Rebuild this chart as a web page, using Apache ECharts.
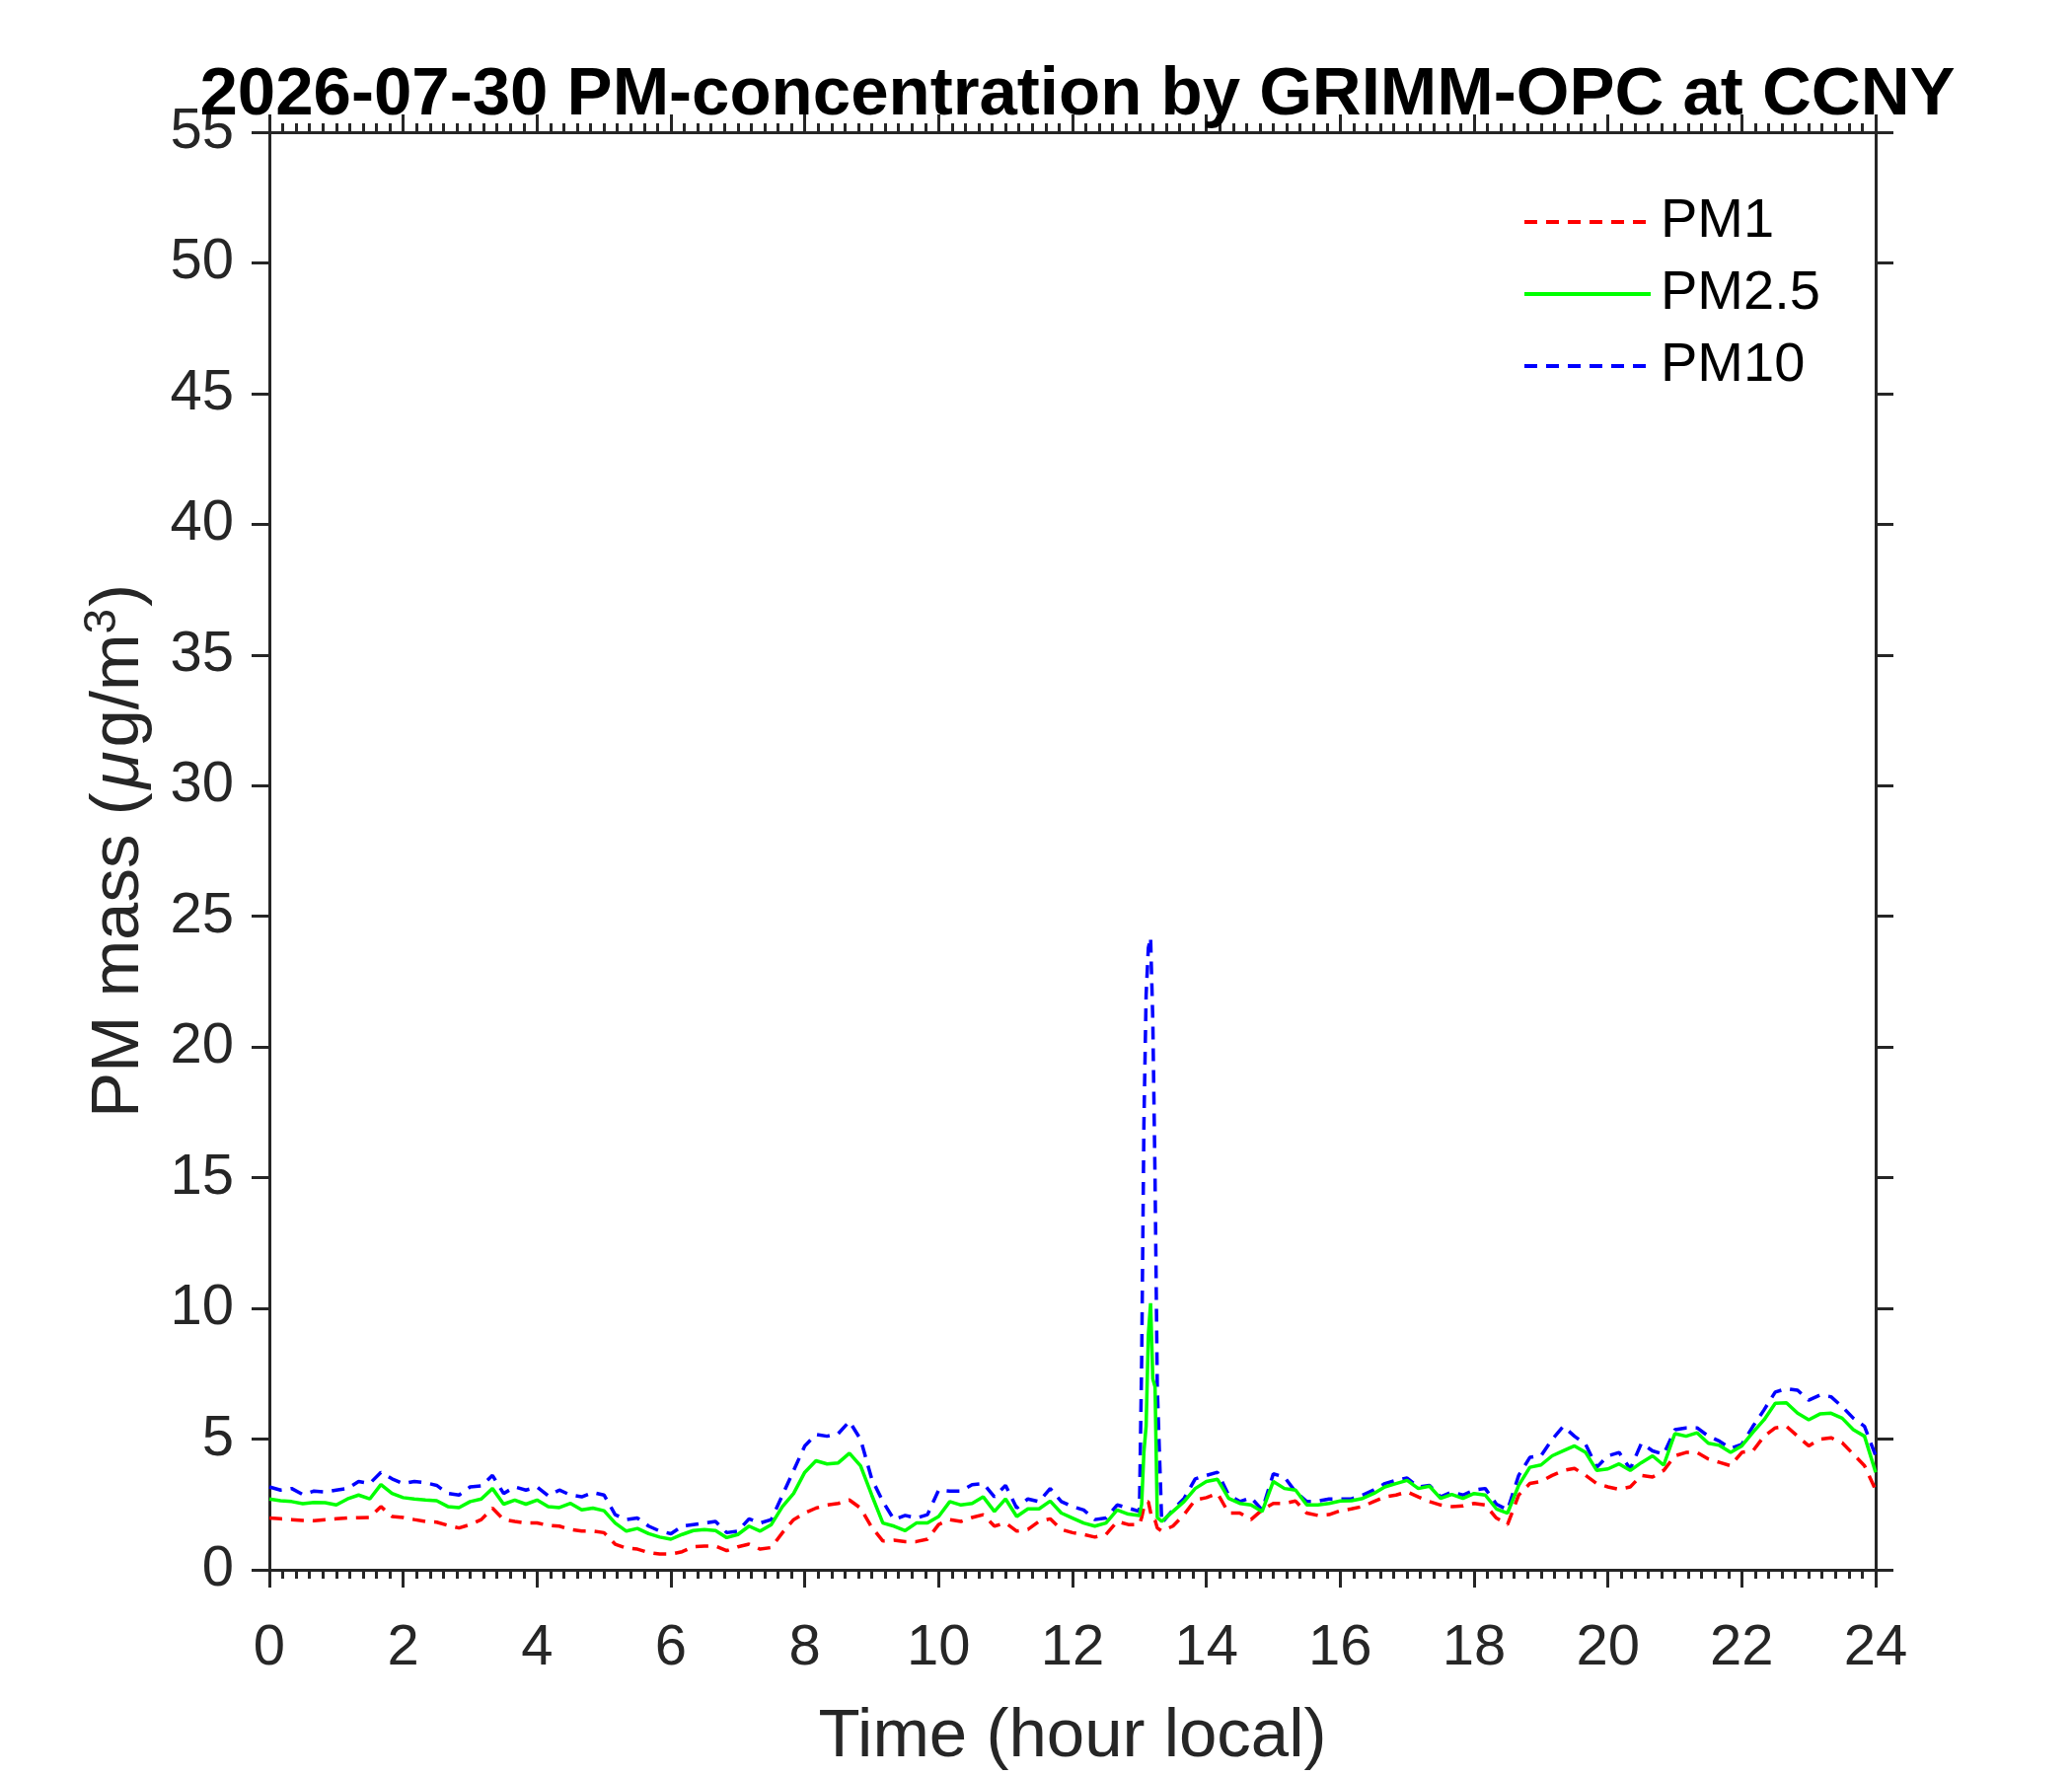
<!DOCTYPE html>
<html>
<head>
<meta charset="utf-8">
<script src="https://cdn.jsdelivr.net/npm/echarts@6/dist/echarts.min.js"></script>
<style>
  html, body { margin: 0; padding: 0; background: #fff; }
  #chart { width: 2100px; height: 1800px; }
</style>
</head>
<body>
<div id="chart"></div>
<script>
// sample times, minutes after midnight (extra samples around the 13:05 spike)
const minutes = [
    0, 10, 20, 30, 40, 50, 60, 70, 80, 90, 100, 110,
    120, 130, 140, 150, 160, 170, 180, 190, 200, 210, 220, 230,
    240, 250, 260, 270, 280, 290, 300, 310, 320, 330, 340, 350,
    360, 370, 380, 390, 400, 410, 420, 430, 440, 450, 460, 470,
    480, 490, 500, 510, 520, 530, 540, 550, 560, 570, 580, 590,
    600, 610, 620, 630, 640, 650, 660, 670, 680, 690, 700, 710,
    720, 730, 740, 750, 760, 770, 780,
    782, 784, 786, 788, 790, 792, 794, 796,
    800, 810, 820, 830,
    840, 850, 860, 870, 880, 890, 900, 910, 920, 930, 940, 950,
    960, 970, 980, 990, 1000, 1010, 1020, 1030, 1040, 1050, 1060, 1070,
    1080, 1090, 1100, 1110, 1120, 1130, 1140, 1150, 1160, 1170, 1180, 1190,
    1200, 1210, 1220, 1230, 1240, 1250, 1260, 1270, 1280, 1290, 1300, 1310,
    1320, 1330, 1340, 1350, 1360, 1370, 1380, 1390, 1400, 1410, 1420, 1430,
    1440,
];

const pm1 = [
    1.98, 1.95, 1.92, 1.89, 1.88, 1.92, 1.95, 1.98, 1.99, 2.00, 2.42, 2.04,
    2.00, 1.92, 1.85, 1.82, 1.70, 1.60, 1.73, 1.92, 2.36, 1.92, 1.85, 1.79,
    1.79, 1.70, 1.67, 1.54, 1.48, 1.48, 1.42, 0.98, 0.83, 0.79, 0.66, 0.60,
    0.60, 0.69, 0.88, 0.91, 0.91, 0.73, 0.88, 0.98, 0.79, 0.85, 1.42, 1.92,
    2.17, 2.36, 2.48, 2.54, 2.67, 2.36, 1.63, 1.10, 1.13, 1.08, 1.08, 1.17,
    1.73, 1.92, 1.85, 2.00, 2.11, 1.67, 1.79, 1.48, 1.54, 1.85, 1.95, 1.54,
    1.42, 1.35, 1.25, 1.35, 1.85, 1.73, 1.73,
    2.0, 2.4, 2.6, 2.6, 2.2, 1.9, 1.9, 1.6,
    1.48, 1.67, 2.11, 2.67,
    2.76, 2.92, 2.17, 2.17, 1.92, 2.29, 2.54, 2.54, 2.63, 2.17, 2.08, 2.11,
    2.26, 2.33, 2.42, 2.61, 2.79, 2.86, 2.98, 2.79, 2.61, 2.48, 2.42, 2.44,
    2.54, 2.48, 1.98, 1.73, 2.86, 3.30, 3.38, 3.61, 3.80, 3.88, 3.61, 3.30,
    3.17, 3.08, 3.17, 3.61, 3.55, 3.80, 4.36, 4.49, 4.49, 4.24, 4.11, 3.98,
    4.49, 4.55, 5.11, 5.43, 5.49, 5.11, 4.74, 4.99, 5.05, 4.86, 4.42, 3.98,
    3.05,
];

const pm25 = [
    2.71, 2.64, 2.61, 2.53, 2.58, 2.57, 2.48, 2.71, 2.86, 2.71, 3.26, 2.92,
    2.76, 2.71, 2.67, 2.64, 2.42, 2.38, 2.61, 2.71, 3.11, 2.51, 2.67, 2.51,
    2.67, 2.42, 2.38, 2.54, 2.29, 2.36, 2.26, 1.79, 1.48, 1.58, 1.38, 1.25,
    1.17, 1.35, 1.50, 1.54, 1.50, 1.23, 1.35, 1.67, 1.48, 1.73, 2.42, 2.92,
    3.73, 4.17, 4.05, 4.09, 4.46, 3.98, 2.86, 1.79, 1.67, 1.50, 1.79, 1.79,
    2.04, 2.61, 2.48, 2.54, 2.79, 2.23, 2.71, 2.04, 2.33, 2.33, 2.63, 2.17,
    1.98, 1.79, 1.67, 1.79, 2.29, 2.13, 2.08,
    2.5, 4.5, 5.5, 9.0, 10.2, 7.3, 7.0, 2.0,
    1.85, 2.23, 2.61, 3.11,
    3.38, 3.46, 2.73, 2.54, 2.48, 2.23, 3.38, 3.11, 3.05, 2.48, 2.48, 2.54,
    2.63, 2.64, 2.73, 2.92, 3.17, 3.30, 3.42, 3.11, 3.20, 2.73, 2.88, 2.73,
    2.92, 2.86, 2.33, 2.17, 3.23, 3.92, 4.01, 4.36, 4.55, 4.74, 4.49, 3.80,
    3.86, 4.05, 3.80, 4.10, 4.36, 4.00, 5.21, 5.11, 5.24, 4.84, 4.76, 4.49,
    4.74, 5.26, 5.74, 6.37, 6.39, 5.99, 5.74, 5.96, 5.99, 5.80, 5.36, 5.11,
    3.73,
];

const pm10 = [
    3.17, 3.05, 3.11, 2.88, 3.01, 2.98, 3.05, 3.11, 3.38, 3.30, 3.73, 3.48,
    3.30, 3.38, 3.33, 3.23, 2.92, 2.86, 3.17, 3.21, 3.61, 2.92, 3.17, 3.05,
    3.17, 2.83, 3.05, 2.86, 2.79, 2.96, 2.86, 2.11, 1.92, 1.98, 1.67, 1.48,
    1.38, 1.67, 1.73, 1.79, 1.85, 1.42, 1.48, 1.95, 1.79, 1.92, 2.86, 3.80,
    4.74, 5.18, 5.11, 5.21, 5.68, 4.99, 3.48, 2.61, 1.92, 2.08, 1.98, 2.11,
    3.05, 3.01, 3.01, 3.26, 3.30, 2.79, 3.23, 2.36, 2.71, 2.61, 3.11, 2.61,
    2.42, 2.29, 1.92, 1.98, 2.48, 2.36, 2.23,
    8.0, 17.0, 22.0, 23.8, 24.2, 21.0, 15.0, 7.0,
    1.79, 2.29, 2.73, 3.48,
    3.61, 3.73, 2.86, 2.61, 2.76, 2.29, 3.67, 3.55, 2.98, 2.61, 2.63, 2.71,
    2.71, 2.71, 2.86, 3.05, 3.30, 3.42, 3.51, 3.17, 3.23, 2.79, 2.98, 2.86,
    3.05, 3.11, 2.51, 2.29, 3.61, 4.30, 4.36, 4.99, 5.49, 5.11, 4.80, 3.92,
    4.36, 4.49, 3.86, 4.84, 4.55, 4.42, 5.36, 5.43, 5.43, 5.11, 4.92, 4.64,
    4.80, 5.49, 6.12, 6.80, 6.93, 6.87, 6.49, 6.68, 6.62, 6.24, 5.80, 5.49,
    4.36,
];

const seriesNames = ["PM1", "PM2.5", "PM10"];

const font = "'Liberation Sans', Arial, Helvetica, sans-serif";
const ink = "#262626";

const toPairs = (vals) => vals.map((v, i) => [minutes[i] / 60, v]);

const xCommon = {
    type: "value",
    min: 0,
    max: 24,
    interval: 2,
    axisLine: { show: true, onZero: false, lineStyle: { color: ink, width: 3 } },
    axisTick: { show: true, length: 18, lineStyle: { color: ink, width: 3 } },
    minorTick: { show: true, splitNumber: 10, length: 9, lineStyle: { color: ink, width: 3 } },
    splitLine: { show: false },
    minorSplitLine: { show: false },
};

const yCommon = {
    type: "value",
    min: 0,
    max: 55,
    interval: 5,
    axisLine: { show: true, onZero: false, lineStyle: { color: ink, width: 3 } },
    axisTick: { show: true, length: 18, lineStyle: { color: ink, width: 3 } },
    splitLine: { show: false },
};

document.addEventListener("DOMContentLoaded", () => {
    const chart = echarts.init(document.querySelector("#chart"), null, { renderer: "canvas" });
    chart.setOption({
        animation: false,
        backgroundColor: "#fff",
        textStyle: { fontFamily: font },
        title: {
            text: "2026-07-30 PM-concentration by GRIMM-OPC at CCNY",
            left: 1087,
            textAlign: "center",
            top: 57,
            textStyle: { fontFamily: font, fontSize: 69, fontWeight: "bold", color: "#000" },
        },
        legend: {
            orient: "vertical",
            left: 1538,
            top: 190,
            itemWidth: 128,
            itemHeight: 20,
            itemGap: 13,
            data: seriesNames,
            itemStyle: { opacity: 0 },
            lineStyle: { width: 4 },
            textStyle: { fontFamily: font, fontSize: 56, color: "#000", lineHeight: 60, padding: [0, 0, 0, 5] },
        },
        grid: { left: 273, right: 199, top: 134, bottom: 204, containLabel: false },
        xAxis: [
            Object.assign({}, xCommon, {
                position: "bottom",
                name: "Time (hour local)",
                nameLocation: "middle",
                nameGap: 135,
                nameTextStyle: { fontFamily: font, fontSize: 69, color: ink },
                axisLabel: { fontFamily: font, fontSize: 58, color: ink, margin: 51 },
            }),
            Object.assign({}, xCommon, {
                position: "top",
                axisLabel: { show: false },
            }),
        ],
        yAxis: [
            Object.assign({}, yCommon, {
                position: "left",
                name: "{t|PM mass (}{m|μ}{t|g/m}{s|3}{t|)}",
                nameLocation: "middle",
                nameGap: 112,
                nameTextStyle: {
                    color: ink,
                    rich: {
                        t: { fontFamily: font, fontSize: 69, color: ink },
                        m: { fontFamily: font, fontSize: 69, color: ink, fontStyle: "italic", padding: [0, 4, 0, 4] },
                        s: { fontFamily: font, fontSize: 46, color: ink, padding: [0, 2, 34, 0] },
                    },
                },
                axisLabel: { fontFamily: font, fontSize: 58, color: ink, margin: 36 },
            }),
            Object.assign({}, yCommon, {
                position: "right",
                axisLabel: { show: false },
            }),
        ],
        series: [
            {
                name: "PM1",
                type: "line",
                data: toPairs(pm1),
                symbol: "none",
                color: "#ff0000",
                lineStyle: { color: "#ff0000", width: 3.5, type: [13, 9] },
                z: 3,
            },
            {
                name: "PM2.5",
                type: "line",
                data: toPairs(pm25),
                symbol: "none",
                color: "#00ff00",
                lineStyle: { color: "#00ff00", width: 3.5, type: "solid" },
                z: 4,
            },
            {
                name: "PM10",
                type: "line",
                data: toPairs(pm10),
                symbol: "none",
                color: "#0000ff",
                lineStyle: { color: "#0000ff", width: 3.5, type: [13, 9] },
                z: 2,
            },
        ],
    });
});
</script>
</body>
</html>
